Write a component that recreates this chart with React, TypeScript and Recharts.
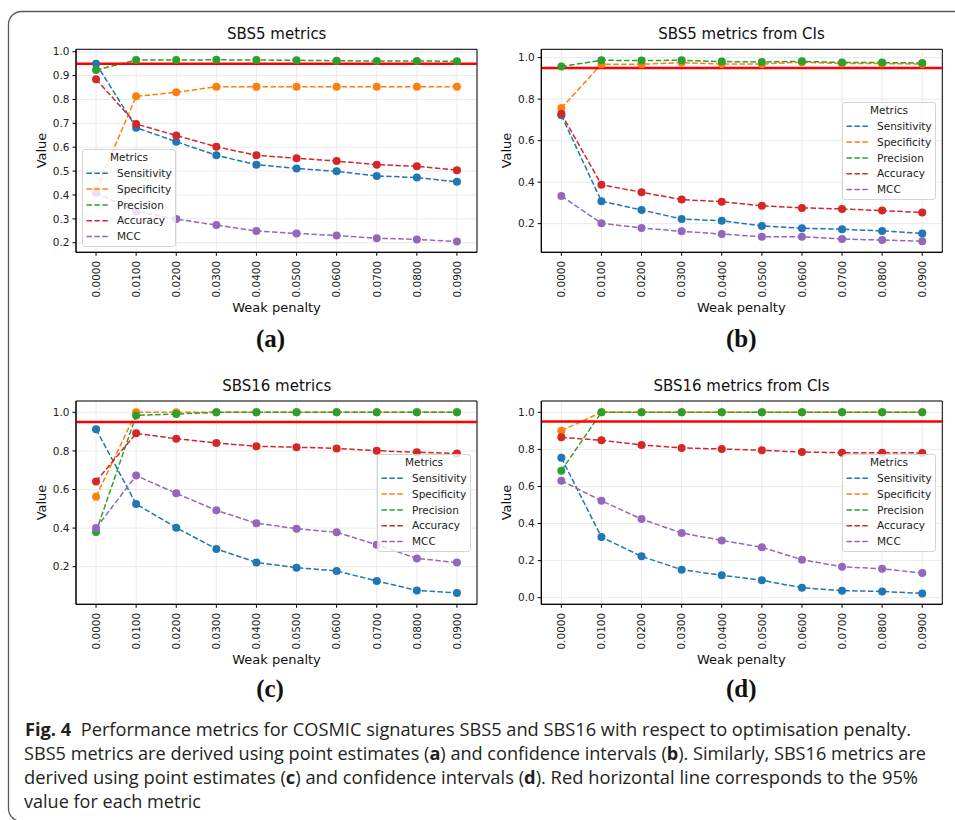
import React from 'react'
import {
    LineChart, Line, XAxis, YAxis, CartesianGrid, ReferenceLine, ReferenceArea, Legend
} from 'recharts'

// x categories (weak penalty)
const penalties = ['0.0000', '0.0100', '0.0200', '0.0300', '0.0400', '0.0500', '0.0600', '0.0700', '0.0800', '0.0900']
const metricNames = ['Sensitivity', 'Specificity', 'Precision', 'Accuracy', 'MCC']

// (a) SBS5 metrics
const sbs5Sensitivity = [0.95, 0.682, 0.623, 0.566, 0.527, 0.511, 0.499, 0.480, 0.473, 0.455]
const sbs5Specificity = [0.42, 0.813, 0.830, 0.853, 0.853, 0.853, 0.853, 0.853, 0.853, 0.853]
const sbs5Precision = [0.923, 0.965, 0.965, 0.966, 0.965, 0.964, 0.962, 0.961, 0.961, 0.960]
const sbs5Accuracy = [0.885, 0.697, 0.649, 0.602, 0.566, 0.554, 0.542, 0.527, 0.520, 0.504]
const sbs5Mcc = [0.409, 0.331, 0.299, 0.274, 0.249, 0.239, 0.230, 0.219, 0.214, 0.205]

// (b) SBS5 metrics from CIs
const sbs5CiSensitivity = [0.722, 0.308, 0.266, 0.222, 0.214, 0.189, 0.178, 0.173, 0.165, 0.153]
const sbs5CiSpecificity = [0.757, 0.968, 0.968, 0.976, 0.969, 0.969, 0.978, 0.971, 0.971, 0.969]
const sbs5CiPrecision = [0.957, 0.987, 0.986, 0.987, 0.981, 0.979, 0.982, 0.976, 0.976, 0.974]
const sbs5CiAccuracy = [0.730, 0.388, 0.351, 0.316, 0.306, 0.286, 0.276, 0.271, 0.263, 0.254]
const sbs5CiMcc = [0.333, 0.202, 0.179, 0.163, 0.150, 0.137, 0.137, 0.126, 0.121, 0.115]

// (c) SBS16 metrics
const sbs16Sensitivity = [0.912, 0.525, 0.402, 0.292, 0.222, 0.195, 0.178, 0.126, 0.077, 0.064]
const sbs16Specificity = [0.563, 1.0, 1.0, 1.0, 1.0, 1.0, 1.0, 1.0, 1.0, 1.0]
const sbs16Precision = [0.380, 0.984, 0.991, 1.0, 1.0, 1.0, 1.0, 1.0, 1.0, 1.0]
const sbs16Accuracy = [0.642, 0.891, 0.863, 0.841, 0.824, 0.819, 0.813, 0.801, 0.793, 0.787]
const sbs16Mcc = [0.400, 0.672, 0.580, 0.492, 0.425, 0.397, 0.378, 0.314, 0.243, 0.221]

// (d) SBS16 metrics from CIs
const sbs16CiSensitivity = [0.755, 0.327, 0.223, 0.151, 0.121, 0.094, 0.054, 0.038, 0.034, 0.023]
const sbs16CiSpecificity = [0.901, 1.0, 1.0, 1.0, 1.0, 1.0, 1.0, 1.0, 1.0, 1.0]
const sbs16CiPrecision = [0.685, 1.0, 1.0, 1.0, 1.0, 1.0, 1.0, 1.0, 1.0, 1.0]
const sbs16CiAccuracy = [0.865, 0.849, 0.824, 0.808, 0.802, 0.795, 0.786, 0.782, 0.782, 0.781]
const sbs16CiMcc = [0.631, 0.523, 0.424, 0.349, 0.309, 0.272, 0.205, 0.167, 0.156, 0.133]

const threshold = 0.95

const ticksFine = [0.2, 0.3, 0.4, 0.5, 0.6, 0.7, 0.8, 0.9, 1.0]
const ticksCoarse = [0.2, 0.4, 0.6, 0.8, 1.0]
const ticksFromZero = [0.0, 0.2, 0.4, 0.6, 0.8, 1.0]

const COLORS = ['#1f77b4', '#ff7f0e', '#2ca02c', '#d62728', '#9467bd']
const FONT = '"DejaVu Sans", sans-serif'
const DASH = '5.5 2.4'

function buildRows(series: number[][]) {
    return penalties.map((p, i) => {
        const row: any = { idx: i, penalty: p }
        metricNames.forEach((m, k) => { row[m] = series[k][i] })
        return row
    })
}

const XTick = (props: any) => {
    const { x, y, payload } = props
    return (
        <text x={x} y={y} transform={`rotate(-90 ${x} ${y})`} textAnchor="end" dy="0.36em"
            fontSize={10.5} fill="#222" fontFamily={FONT}>
            {penalties[payload.value]}
        </text>
    )
}

const MetricsLegend = (props: any) => {
    // keep the plotting order (recharts sorts the payload by name)
    const items = [...(props.payload || [])].sort(
        (a: any, b: any) => metricNames.indexOf(a.value) - metricNames.indexOf(b.value)
    )
    return (
        <div style={{
            width: 94, height: 98, boxSizing: 'border-box', border: '1px solid #d4d4d4',
            borderRadius: 3, background: 'rgba(255,255,255,0.8)', position: 'relative'
        }}>
            <svg width={94} height={98} style={{ position: 'absolute', left: -1, top: -1 }}>
                <text x={47} y={12} textAnchor="middle" fontSize={10.5} fill="#222" fontFamily={FONT}>Metrics</text>
                {items.map((it: any, k: number) => (
                    <g key={it.value}>
                        <line x1={4.5} x2={26} y1={24.3 + k * 15.8} y2={24.3 + k * 15.8}
                            stroke={it.color} strokeWidth={1.5} strokeDasharray={DASH} />
                        <text x={35} y={28 + k * 15.8} fontSize={10.5} fill="#222" fontFamily={FONT}>{it.value}</text>
                    </g>
                ))}
            </svg>
        </div>
    )
}

interface PanelProps {
    left: number
    top: number
    series: number[][]
    domain: [number, number]
    ticks: number[]
    margin: { top: number, left: number, right: number, bottom: number }
    legendPos: { left: number, top: number }
}

function Panel({ left, top, series, domain, ticks, margin, legendPos }: PanelProps) {
    const rows = buildRows(series)
    return (
        <div style={{ position: 'absolute', left, top }}>
            <LineChart width={480} height={300} data={rows} margin={margin}>
                <CartesianGrid stroke="#ebebeb" strokeWidth={1} />
                <XAxis type="number" dataKey="idx" domain={[-0.5, 9.5]} ticks={[0, 1, 2, 3, 4, 5, 6, 7, 8, 9]}
                    allowDataOverflow interval={0} height={40} tick={<XTick />}
                    tickSize={3.5} tickMargin={5} stroke="#000" tickLine={{ stroke: '#000' }} />
                <YAxis type="number" domain={domain} ticks={ticks} allowDataOverflow width={40}
                    tickFormatter={(v: number) => v.toFixed(1)} tickSize={3.5} tickMargin={3}
                    stroke="#000" tickLine={{ stroke: '#000' }}
                    tick={{ fontSize: 10.5, fill: '#222', fontFamily: FONT }} />
                {metricNames.map((m, k) => (
                    <Line key={m} type="linear" dataKey={m} name={m} stroke={COLORS[k]} strokeWidth={1.5}
                        strokeDasharray={DASH} isAnimationActive={false} activeDot={false}
                        dot={{ r: 4, fill: COLORS[k], stroke: 'none', strokeDasharray: '0' }} />
                ))}
                <ReferenceLine y={threshold} stroke="#ff0000" strokeWidth={2.5} />
                <ReferenceArea x1={-0.5} x2={9.5} y1={domain[0]} y2={domain[1]} fill="none"
                    stroke="#000" strokeWidth={1} />
                <Legend layout="vertical" align="center" verticalAlign="middle"
                    content={<MetricsLegend />}
                    wrapperStyle={{ left: legendPos.left - left, top: legendPos.top - top, width: 94, height: 98 }} />
            </LineChart>
        </div>
    )
}

const titles = [
    { t: 'SBS5 metrics', x: 276.7, y: 39 },
    { t: 'SBS5 metrics from CIs', x: 741.5, y: 39 },
    { t: 'SBS16 metrics', x: 276.7, y: 391 },
    { t: 'SBS16 metrics from CIs', x: 741.5, y: 391 },
]
const letters = [
    { t: '(a)', x: 270.5, y: 346.5 },
    { t: '(b)', x: 741.3, y: 346.5 },
    { t: '(c)', x: 270, y: 697 },
    { t: '(d)', x: 741.3, y: 697 },
]

export default function App() {
    return (
        <div style={{ position: 'absolute', left: 0, top: 0, width: 955, height: 820, background: '#fff', overflow: 'hidden' }}>
            <svg width={955} height={820} style={{ position: 'absolute', left: 0, top: 0 }}>
                <rect x={8.5} y={11.5} width={1000} height={810} rx={13} ry={13} fill="none" stroke="#5a5a5a" strokeWidth={1.3} />
                {titles.map(d => (
                    <text key={d.t} x={d.x} y={d.y} textAnchor="middle" fontSize={15} fill="#111" fontFamily={FONT}>{d.t}</text>
                ))}
                {[276.5, 741.3].flatMap(x => [312, 664].map(y => (
                    <text key={`${x}-${y}`} x={x} y={y} textAnchor="middle" fontSize={13} fill="#111" fontFamily={FONT}>Weak penalty</text>
                )))}
                {[45.7, 510.7].flatMap(x => [150.5, 502.5].map(y => (
                    <text key={`v${x}-${y}`} x={x} y={y} transform={`rotate(-90 ${x} ${y})`} textAnchor="middle"
                        fontSize={13} fill="#111" fontFamily={FONT}>Value</text>
                )))}
                {letters.map(d => (
                    <text key={d.t} x={d.x} y={d.y} textAnchor="middle" fontSize={25} fontWeight="bold" fill="#111"
                        fontFamily='"Liberation Serif", "DejaVu Serif", serif'>{d.t}</text>
                ))}
                <g fontFamily='"Open Sans", "Noto Sans", sans-serif' fontSize={18} fill="#231f20">
                    <text x={25} y={735.5} textLength={886} lengthAdjust="spacingAndGlyphs">
                        <tspan fontWeight="bold">Fig. 4</tspan>{'\u00a0 Performance metrics for COSMIC signatures SBS5 and SBS16 with respect to optimisation penalty.'}
                    </text>
                    <text x={24} y={759.8} textLength={902} lengthAdjust="spacingAndGlyphs">
                        {'SBS5 metrics are derived using point estimates ('}<tspan fontWeight="bold">a</tspan>{') and confidence intervals ('}<tspan fontWeight="bold">b</tspan>{'). Similarly, SBS16 metrics are'}
                    </text>
                    <text x={24} y={784} textLength={894} lengthAdjust="spacingAndGlyphs">
                        {'derived using point estimates ('}<tspan fontWeight="bold">c</tspan>{') and confidence intervals ('}<tspan fontWeight="bold">d</tspan>{'). Red horizontal line corresponds to the 95%'}
                    </text>
                    <text x={24} y={808} textLength={177} lengthAdjust="spacingAndGlyphs">value for each metric</text>
                </g>
            </svg>
            <Panel left={0} top={0} domain={[0.16, 1.01]} ticks={ticksFine}
                series={[sbs5Sensitivity, sbs5Specificity, sbs5Precision, sbs5Accuracy, sbs5Mcc]}
                margin={{ top: 49.3, left: 36, right: 3, bottom: 7.7 }}
                legendPos={{ left: 81.7, top: 149 }} />
            <Panel left={478} top={0} domain={[0.062, 1.04]} ticks={ticksCoarse}
                series={[sbs5CiSensitivity, sbs5CiSpecificity, sbs5CiPrecision, sbs5CiAccuracy, sbs5CiMcc]}
                margin={{ top: 49.3, left: 23.3, right: 15.7, bottom: 7.7 }}
                legendPos={{ left: 842, top: 102 }} />
            <Panel left={0} top={352} domain={[0.005, 1.0586]} ticks={ticksCoarse}
                series={[sbs16Sensitivity, sbs16Specificity, sbs16Precision, sbs16Accuracy, sbs16Mcc]}
                margin={{ top: 49, left: 36, right: 3, bottom: 7.7 }}
                legendPos={{ left: 376.7, top: 454 }} />
            <Panel left={478} top={352} domain={[-0.0356, 1.061]} ticks={ticksFromZero}
                series={[sbs16CiSensitivity, sbs16CiSpecificity, sbs16CiPrecision, sbs16CiAccuracy, sbs16CiMcc]}
                margin={{ top: 49, left: 23.3, right: 15.7, bottom: 7.7 }}
                legendPos={{ left: 842, top: 454 }} />
        </div>
    )
}
